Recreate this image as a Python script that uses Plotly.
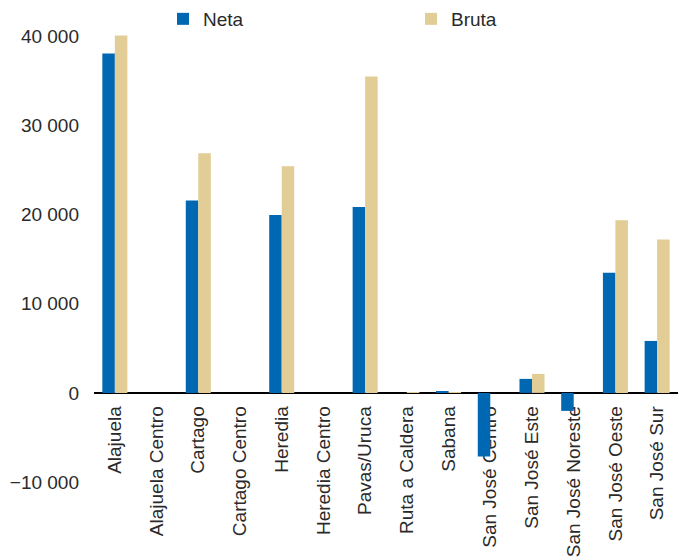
import plotly.graph_objects as go

categories = ["Alajuela", "Alajuela Centro", "Cartago", "Cartago Centro", "Heredia",
              "Heredia Centro", "Pavas/Uruca", "Ruta a Caldera", "Sabana",
              "San José Centro", "San José Este", "San José Noreste", "San José Oeste",
              "San José Sur"]
neta = [38100, 0, 21600, 0, 19950, 0, 20850, 0, 150, -7150, 1570, -2020, 13480, 5830]
bruta = [40100, 0, 26900, 0, 25430, 0, 35500, 100, 100, 0, 2130, 0, 19380, 17220]
y_ticks = [-10000, 0, 10000, 20000, 30000, 40000]

font_family = "Liberation Sans, Arial, sans-serif"
y_range = [-10000, 40500]
zero_pos = (0 - y_range[0]) / (y_range[1] - y_range[0])

fig = go.Figure()
fig.add_trace(go.Bar(x=categories, y=neta, name="Neta",
                     marker=dict(color="#0068B3", line=dict(width=0))))
fig.add_trace(go.Bar(x=categories, y=bruta, name="Bruta",
                     marker=dict(color="#E3CD96", line=dict(width=0))))

fig.update_layout(
    width=686, height=560,
    margin=dict(l=94, r=8, t=31.5, b=78, autoexpand=False),
    plot_bgcolor="white", paper_bgcolor="white",
    barmode="group", bargap=0.4, bargroupgap=0.0,
    separators=". ",
    font=dict(family=font_family, size=19, color="#2a2a2a"),
    legend=dict(orientation="h", xref="container", yref="container",
                x=163 / 686, y=1, xanchor="left", yanchor="top",
                entrywidth=203, entrywidthmode="pixels",
                font=dict(size=19), itemwidth=30, bgcolor="rgba(0,0,0,0)"),
    xaxis=dict(anchor="free", position=zero_pos, showline=True, linecolor="black",
               linewidth=1.5, tickangle=-90, ticks="", showgrid=False,
               ticklabelstandoff=5,
               layer="below traces", automargin=False, tickfont=dict(size=19)),
    yaxis=dict(range=y_range, tickvals=y_ticks, tickformat=",d", showgrid=False,
               zeroline=False, showline=False, ticks="", ticklabelstandoff=14,
               automargin=False, tickfont=dict(size=19)),
)
fig.write_html("out.html")
